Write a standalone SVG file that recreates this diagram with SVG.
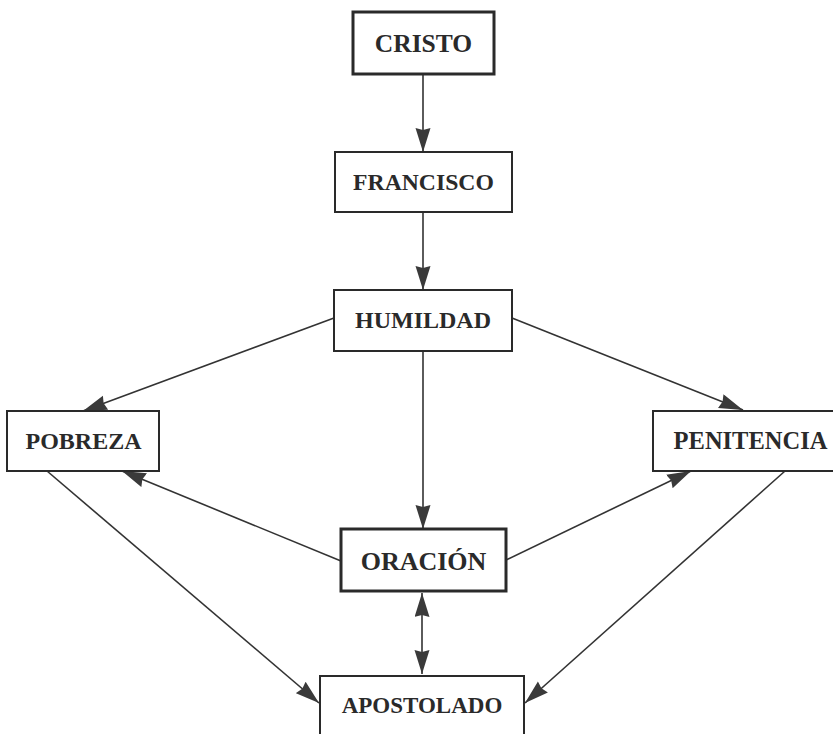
<svg xmlns="http://www.w3.org/2000/svg" width="833" height="734" viewBox="0 0 833 734">
<style>
.box{fill:#fff;stroke:#2a2a2a;stroke-width:2}
.thick{stroke-width:3}
.t{font-family:"Liberation Serif","Times New Roman",serif;font-weight:bold;fill:#2a2a2a;text-anchor:middle}
.c{stroke:#333;stroke-width:1.6;fill:none;marker-end:url(#ah)}
</style>
<defs>
<marker id="ah" markerUnits="userSpaceOnUse" markerWidth="26" markerHeight="16" refX="24" refY="7.5" orient="auto-start-reverse">
<path d="M0,0 L24,7.5 L0,15 L2,7.5 z" fill="#3a3a3a"/>
</marker>
</defs>
<rect width="833" height="734" fill="#fff"/>
<g id="connectors">
<line class="c" x1="423" y1="74" x2="423" y2="152"/>
<line class="c" x1="423" y1="212" x2="423" y2="290"/>
<line class="c" x1="423" y1="351" x2="423" y2="529"/>
<line class="c" x1="334" y1="318" x2="83" y2="411"/>
<line class="c" x1="512" y1="318" x2="743" y2="410"/>
<line class="c" x1="341" y1="561" x2="122" y2="471"/>
<line class="c" x1="506" y1="560" x2="691" y2="471"/>
<line class="c" x1="47" y1="471" x2="319" y2="703"/>
<line class="c" x1="785" y1="471" x2="525" y2="703"/>
<line class="c" x1="422" y1="674" x2="422" y2="593" style="marker-start:url(#ah)"/>
</g>
<g id="cristo">
<rect class="box thick" x="353" y="12" width="141" height="62"/>
<text class="t" x="423.5" y="52" font-size="25.5">CRISTO</text>
</g>
<g id="francisco">
<rect class="box" x="335" y="152" width="177" height="60"/>
<text class="t" x="423.5" y="190" font-size="23.7">FRANCISCO</text>
</g>
<g id="humildad">
<rect class="box" x="334" y="290" width="178" height="61"/>
<text class="t" x="423" y="328" font-size="24">HUMILDAD</text>
</g>
<g id="pobreza">
<rect class="box" x="7" y="411" width="152" height="60"/>
<text class="t" x="83.5" y="449" font-size="24">POBREZA</text>
</g>
<g id="penitencia">
<rect class="box" x="653" y="411" width="195" height="60"/>
<text class="t" x="750.5" y="449" font-size="24.5">PENITENCIA</text>
</g>
<g id="oracion">
<rect class="box thick" x="341" y="529" width="165" height="62"/>
<text class="t" x="423.5" y="570" font-size="26">ORACIÓN</text>
</g>
<g id="apostolado">
<rect class="box" x="320" y="676" width="204" height="70"/>
<text class="t" x="422" y="713" font-size="23">APOSTOLADO</text>
</g>
</svg>
